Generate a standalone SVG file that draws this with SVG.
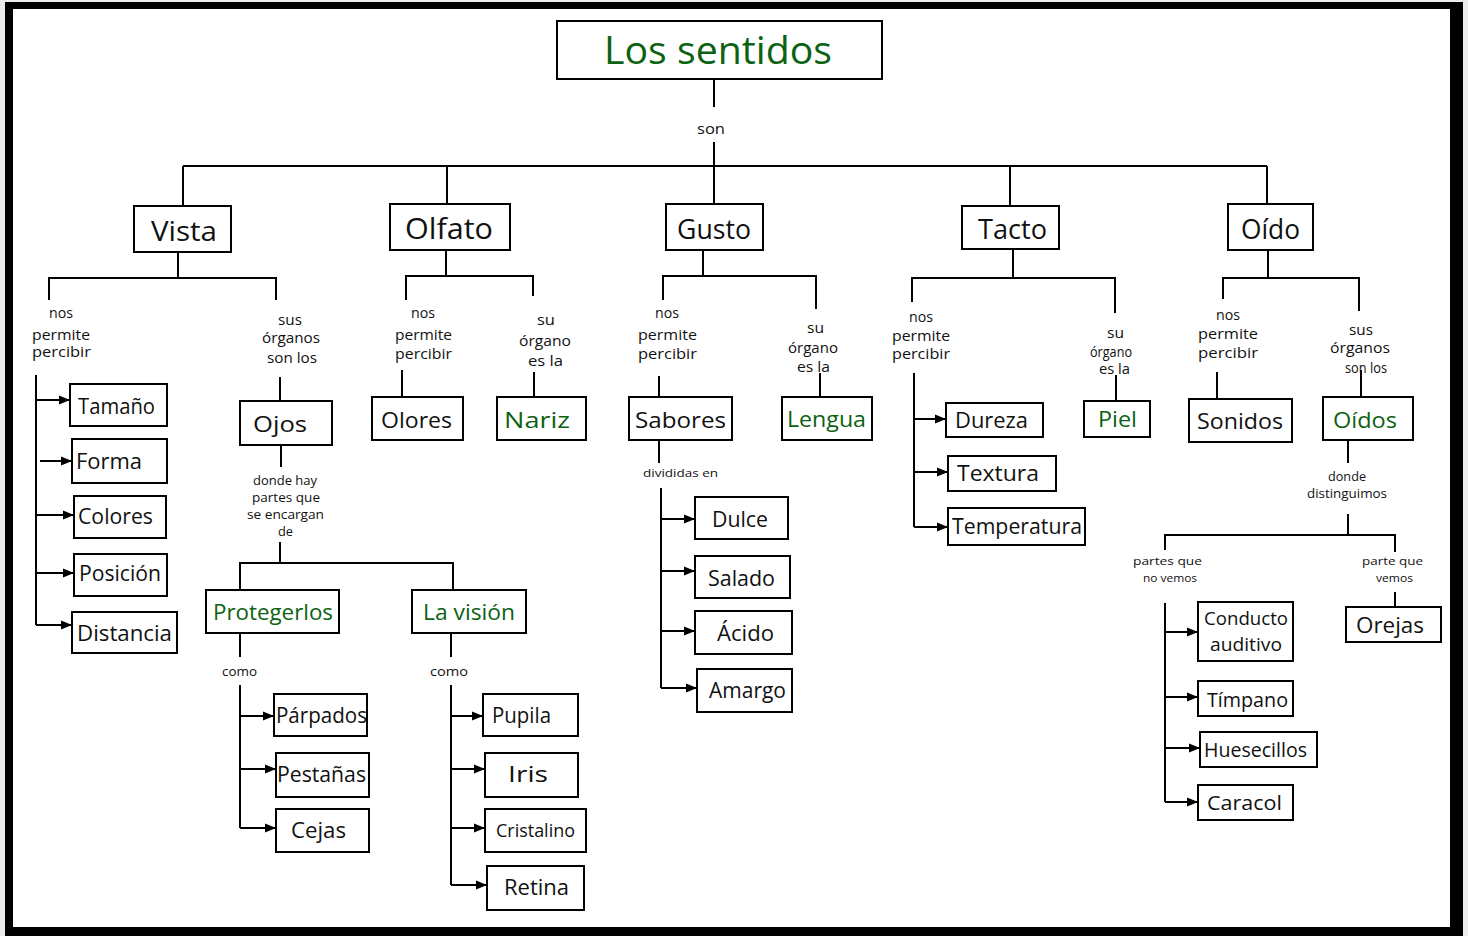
<svg xmlns="http://www.w3.org/2000/svg" width="1468" height="936" viewBox="0 0 1468 936">
<defs>
<style>
.box{fill:#fff;stroke:#000;stroke-width:2}
.t{font-family:"Open Sans","DejaVu Sans",sans-serif;fill:#111;font-size:22px}
.g{fill:#0c6212}
.s{font-size:14px}
.xs{font-size:12.5px}
.xxs{font-size:11px}
.ln{stroke:#000;stroke-width:2;fill:none}
.ar{stroke:#000;stroke-width:2;fill:none;marker-end:url(#ah)}
</style>
<marker id="ah" markerUnits="userSpaceOnUse" markerWidth="11" markerHeight="10" viewBox="0 0 11 10" refX="11" refY="5" orient="auto"><path d="M0,0.5 L11,5 L0,9.5 z" fill="#000"/></marker>
</defs>
<rect x="0" y="0" width="1468" height="936" fill="#ececec"/>
<rect x="5" y="2" width="1458" height="934" fill="#000"/>
<rect x="13" y="9" width="1437" height="918" fill="#fff"/>

<g id="connectors">
<path class="ln" d="M714,79 V107 M714,142 V204 M183,166 H1267 M183,166 V206 M447,166 V204 M1010,166 V206 M1267,166 V204"/>
<path class="ln" d="M178,252 V278 M49,300 V278 H276 V300 M280,377 V401 M281,445 V467 M280,542 V563 M240,590 V563 H453 V590 M240,633 V657 M451,633 V657"/>
<path class="ln" d="M446,250 V276 M406,300 V276 H533 V296 M402,370 V397 M534,372 V397"/>
<path class="ln" d="M703,250 V276 M663,300 V276 H816 V309 M659,376 V397 M820,373 V397 M659,440 V463"/>
<path class="ln" d="M1013,249 V278 M912,302 V278 H1115 V313 M1116,375 V401"/>
<path class="ln" d="M1268,250 V278 M1223,299 V278 H1359 V311 M1217,372 V399 M1361,370 V397 M1348,440 V463 M1348,514 V535 M1165,550 V535 H1395 V552 M1395,592 V607"/>
<path class="ln" d="M36,375 V625 M240,685 V828 M451,685 V885 M661,488 V688 M914,373 V527 M1165,603 V802"/>
<path class="ar" d="M36,400 H70"/><path class="ar" d="M40,461 H72"/><path class="ar" d="M36,515 H74"/><path class="ar" d="M36,573 H74"/><path class="ar" d="M36,625 H72"/>
<path class="ar" d="M240,716 H274"/><path class="ar" d="M240,769 H276"/><path class="ar" d="M240,828 H276"/>
<path class="ar" d="M451,716 H483"/><path class="ar" d="M451,769 H485"/><path class="ar" d="M451,828 H485"/><path class="ar" d="M451,885 H487"/>
<path class="ar" d="M661,519 H695"/><path class="ar" d="M661,571 H695"/><path class="ar" d="M661,631 H695"/><path class="ar" d="M661,688 H697"/>
<path class="ar" d="M914,419 H946"/><path class="ar" d="M914,472 H948"/><path class="ar" d="M914,527 H948"/>
<path class="ar" d="M1165,632 H1198"/><path class="ar" d="M1165,697 H1198"/><path class="ar" d="M1165,748 H1200"/><path class="ar" d="M1165,802 H1198"/>
</g>

<g id="labels">
<text class="t s" x="697" y="134" textLength="28" lengthAdjust="spacingAndGlyphs">son</text>
<text class="t s" x="49" y="318" textLength="24" lengthAdjust="spacingAndGlyphs">nos</text>
<text class="t s" x="32" y="340" textLength="58" lengthAdjust="spacingAndGlyphs">permite</text>
<text class="t s" x="32" y="357" textLength="59" lengthAdjust="spacingAndGlyphs">percibir</text>
<text class="t s" x="278" y="325" textLength="24" lengthAdjust="spacingAndGlyphs">sus</text>
<text class="t s" x="262" y="343" textLength="58" lengthAdjust="spacingAndGlyphs">órganos</text>
<text class="t s" x="267" y="363" textLength="50" lengthAdjust="spacingAndGlyphs">son los</text>
<text class="t xs" x="253" y="485" textLength="64" lengthAdjust="spacingAndGlyphs">donde hay</text>
<text class="t xs" x="252" y="502" textLength="68" lengthAdjust="spacingAndGlyphs">partes que</text>
<text class="t xs" x="247" y="519" textLength="77" lengthAdjust="spacingAndGlyphs">se encargan</text>
<text class="t xs" x="278" y="536" textLength="15" lengthAdjust="spacingAndGlyphs">de</text>
<text class="t xs" x="222" y="676" textLength="35" lengthAdjust="spacingAndGlyphs">como</text>
<text class="t xs" x="430" y="676" textLength="38" lengthAdjust="spacingAndGlyphs">como</text>
<text class="t s" x="411" y="318" textLength="24" lengthAdjust="spacingAndGlyphs">nos</text>
<text class="t s" x="395" y="340" textLength="57" lengthAdjust="spacingAndGlyphs">permite</text>
<text class="t s" x="395" y="359" textLength="57" lengthAdjust="spacingAndGlyphs">percibir</text>
<text class="t s" x="537" y="325" textLength="18" lengthAdjust="spacingAndGlyphs">su</text>
<text class="t s" x="519" y="346" textLength="52" lengthAdjust="spacingAndGlyphs">órgano</text>
<text class="t s" x="528" y="366" textLength="35" lengthAdjust="spacingAndGlyphs">es la</text>
<text class="t s" x="655" y="318" textLength="24" lengthAdjust="spacingAndGlyphs">nos</text>
<text class="t s" x="638" y="340" textLength="59" lengthAdjust="spacingAndGlyphs">permite</text>
<text class="t s" x="638" y="359" textLength="59" lengthAdjust="spacingAndGlyphs">percibir</text>
<text class="t s" x="807" y="333" textLength="17" lengthAdjust="spacingAndGlyphs">su</text>
<text class="t s" x="788" y="353" textLength="50" lengthAdjust="spacingAndGlyphs">órgano</text>
<text class="t s" x="797" y="372" textLength="33" lengthAdjust="spacingAndGlyphs">es la</text>
<text class="t xxs" x="643" y="477" textLength="75" lengthAdjust="spacingAndGlyphs">divididas en</text>
<text class="t s" x="909" y="322" textLength="24" lengthAdjust="spacingAndGlyphs">nos</text>
<text class="t s" x="892" y="341" textLength="58" lengthAdjust="spacingAndGlyphs">permite</text>
<text class="t s" x="892" y="359" textLength="58" lengthAdjust="spacingAndGlyphs">percibir</text>
<text class="t s" x="1107" y="338" textLength="17" lengthAdjust="spacingAndGlyphs">su</text>
<text class="t s" x="1090" y="357" textLength="42" lengthAdjust="spacingAndGlyphs">órgano</text>
<text class="t s" x="1099" y="374" textLength="31" lengthAdjust="spacingAndGlyphs">es la</text>
<text class="t s" x="1216" y="320" textLength="24" lengthAdjust="spacingAndGlyphs">nos</text>
<text class="t s" x="1198" y="339" textLength="60" lengthAdjust="spacingAndGlyphs">permite</text>
<text class="t s" x="1198" y="358" textLength="60" lengthAdjust="spacingAndGlyphs">percibir</text>
<text class="t s" x="1349" y="335" textLength="24" lengthAdjust="spacingAndGlyphs">sus</text>
<text class="t s" x="1330" y="353" textLength="60" lengthAdjust="spacingAndGlyphs">órganos</text>
<text class="t s" x="1345" y="373" textLength="42" lengthAdjust="spacingAndGlyphs">son los</text>
<text class="t xs" x="1328" y="481" textLength="38" lengthAdjust="spacingAndGlyphs">donde</text>
<text class="t xs" x="1307" y="498" textLength="80" lengthAdjust="spacingAndGlyphs">distinguimos</text>
<text class="t xxs" x="1133" y="565" textLength="69" lengthAdjust="spacingAndGlyphs">partes que</text>
<text class="t xxs" x="1143" y="582" textLength="54" lengthAdjust="spacingAndGlyphs">no vemos</text>
<text class="t xxs" x="1362" y="565" textLength="61" lengthAdjust="spacingAndGlyphs">parte que</text>
<text class="t xxs" x="1376" y="582" textLength="37" lengthAdjust="spacingAndGlyphs">vemos</text>
</g>

<g id="n-title"><rect class="box" x="557" y="21" width="325" height="58"/><text class="t g" x="604" y="64" style="font-size:39px" textLength="228" lengthAdjust="spacingAndGlyphs">Los sentidos</text></g>
<g id="n-vista"><rect class="box" x="134" y="206" width="97" height="46"/><text class="t" x="151" y="241" style="font-size:28px" textLength="66" lengthAdjust="spacingAndGlyphs">Vista</text></g>
<g id="n-olfato"><rect class="box" x="390" y="204" width="120" height="46"/><text class="t" x="405" y="239" style="font-size:29px" textLength="88" lengthAdjust="spacingAndGlyphs">Olfato</text></g>
<g id="n-gusto"><rect class="box" x="666" y="204" width="97" height="46"/><text class="t" x="677" y="239" style="font-size:28px" textLength="74" lengthAdjust="spacingAndGlyphs">Gusto</text></g>
<g id="n-tacto"><rect class="box" x="962" y="206" width="97" height="43"/><text class="t" x="978" y="239" style="font-size:28px" textLength="69" lengthAdjust="spacingAndGlyphs">Tacto</text></g>
<g id="n-oido"><rect class="box" x="1228" y="204" width="85" height="46"/><text class="t" x="1241" y="239" style="font-size:28px" textLength="59" lengthAdjust="spacingAndGlyphs">Oído</text></g>

<g id="n-tamano"><rect class="box" x="70" y="384" width="97" height="42"/><text class="t" x="78" y="414" textLength="77" lengthAdjust="spacingAndGlyphs">Tamaño</text></g>
<g id="n-forma"><rect class="box" x="72" y="439" width="95" height="44"/><text class="t" x="76" y="469" textLength="66" lengthAdjust="spacingAndGlyphs">Forma</text></g>
<g id="n-colores"><rect class="box" x="74" y="496" width="92" height="42"/><text class="t" x="78" y="524" textLength="75" lengthAdjust="spacingAndGlyphs">Colores</text></g>
<g id="n-posicion"><rect class="box" x="74" y="554" width="93" height="42"/><text class="t" x="79" y="581" textLength="82" lengthAdjust="spacingAndGlyphs">Posición</text></g>
<g id="n-distancia"><rect class="box" x="72" y="612" width="105" height="41"/><text class="t" x="77" y="641" textLength="95" lengthAdjust="spacingAndGlyphs">Distancia</text></g>
<g id="n-ojos"><rect class="box" x="240" y="401" width="92" height="44"/><text class="t" x="253" y="432" textLength="54" lengthAdjust="spacingAndGlyphs">Ojos</text></g>
<g id="n-protegerlos"><rect class="box" x="206" y="590" width="133" height="43"/><text class="t g" x="213" y="620" textLength="120" lengthAdjust="spacingAndGlyphs">Protegerlos</text></g>
<g id="n-vision"><rect class="box" x="412" y="590" width="114" height="43"/><text class="t g" x="423" y="620" textLength="92" lengthAdjust="spacingAndGlyphs">La visión</text></g>
<g id="n-parpados"><rect class="box" x="274" y="694" width="93" height="42"/><text class="t" x="276" y="723" textLength="91" lengthAdjust="spacingAndGlyphs">Párpados</text></g>
<g id="n-pestanas"><rect class="box" x="276" y="753" width="93" height="44"/><text class="t" x="277" y="782" textLength="89" lengthAdjust="spacingAndGlyphs">Pestañas</text></g>
<g id="n-cejas"><rect class="box" x="276" y="809" width="93" height="43"/><text class="t" x="291" y="838" textLength="55" lengthAdjust="spacingAndGlyphs">Cejas</text></g>
<g id="n-pupila"><rect class="box" x="483" y="694" width="95" height="42"/><text class="t" x="492" y="723" textLength="59" lengthAdjust="spacingAndGlyphs">Pupila</text></g>
<g id="n-iris"><rect class="box" x="485" y="753" width="93" height="44"/><text class="t" x="508" y="782" textLength="40" lengthAdjust="spacingAndGlyphs">Iris</text></g>
<g id="n-cristalino"><rect class="box" x="485" y="809" width="101" height="43"/><text class="t" x="496" y="837" style="font-size:18px" textLength="79" lengthAdjust="spacingAndGlyphs">Cristalino</text></g>
<g id="n-retina"><rect class="box" x="487" y="866" width="97" height="44"/><text class="t" x="504" y="895" textLength="65" lengthAdjust="spacingAndGlyphs">Retina</text></g>

<g id="n-olores"><rect class="box" x="372" y="397" width="91" height="43"/><text class="t" x="381" y="428" textLength="71" lengthAdjust="spacingAndGlyphs">Olores</text></g>
<g id="n-nariz"><rect class="box" x="497" y="397" width="89" height="43"/><text class="t g" x="504" y="428" textLength="66" lengthAdjust="spacingAndGlyphs">Nariz</text></g>
<g id="n-sabores"><rect class="box" x="629" y="397" width="103" height="43"/><text class="t" x="635" y="428" textLength="91" lengthAdjust="spacingAndGlyphs">Sabores</text></g>
<g id="n-lengua"><rect class="box" x="782" y="397" width="90" height="43"/><text class="t g" x="787" y="427" textLength="79" lengthAdjust="spacingAndGlyphs">Lengua</text></g>
<g id="n-dulce"><rect class="box" x="695" y="497" width="93" height="42"/><text class="t" x="712" y="527" textLength="56" lengthAdjust="spacingAndGlyphs">Dulce</text></g>
<g id="n-salado"><rect class="box" x="695" y="556" width="95" height="42"/><text class="t" x="708" y="586" textLength="67" lengthAdjust="spacingAndGlyphs">Salado</text></g>
<g id="n-acido"><rect class="box" x="695" y="611" width="97" height="43"/><text class="t" x="717" y="641" textLength="57" lengthAdjust="spacingAndGlyphs">Ácido</text></g>
<g id="n-amargo"><rect class="box" x="697" y="669" width="95" height="43"/><text class="t" x="709" y="698" textLength="77" lengthAdjust="spacingAndGlyphs">Amargo</text></g>

<g id="n-dureza"><rect class="box" x="946" y="403" width="97" height="34"/><text class="t" x="955" y="428" style="font-size:21px" textLength="73" lengthAdjust="spacingAndGlyphs">Dureza</text></g>
<g id="n-textura"><rect class="box" x="948" y="456" width="108" height="35"/><text class="t" x="957" y="481" style="font-size:21px" textLength="82" lengthAdjust="spacingAndGlyphs">Textura</text></g>
<g id="n-temperatura"><rect class="box" x="948" y="508" width="137" height="37"/><text class="t" x="952" y="534" style="font-size:21px" textLength="130" lengthAdjust="spacingAndGlyphs">Temperatura</text></g>
<g id="n-piel"><rect class="box" x="1084" y="401" width="66" height="36"/><text class="t g" x="1098" y="427" style="font-size:21px" textLength="39" lengthAdjust="spacingAndGlyphs">Piel</text></g>

<g id="n-sonidos"><rect class="box" x="1189" y="399" width="103" height="43"/><text class="t" x="1197" y="429" textLength="86" lengthAdjust="spacingAndGlyphs">Sonidos</text></g>
<g id="n-oidos"><rect class="box" x="1323" y="397" width="90" height="43"/><text class="t g" x="1333" y="428" textLength="64" lengthAdjust="spacingAndGlyphs">Oídos</text></g>
<g id="n-conducto"><rect class="box" x="1198" y="602" width="95" height="59"/><text class="t" x="1204" y="625" style="font-size:18px" textLength="84" lengthAdjust="spacingAndGlyphs">Conducto</text><text class="t" x="1210" y="651" style="font-size:18px" textLength="72" lengthAdjust="spacingAndGlyphs">auditivo</text></g>
<g id="n-timpano"><rect class="box" x="1198" y="681" width="95" height="35"/><text class="t" x="1207" y="707" style="font-size:20px" textLength="81" lengthAdjust="spacingAndGlyphs">Tímpano</text></g>
<g id="n-huesecillos"><rect class="box" x="1200" y="732" width="117" height="35"/><text class="t" x="1204" y="757" style="font-size:20px" textLength="103" lengthAdjust="spacingAndGlyphs">Huesecillos</text></g>
<g id="n-caracol"><rect class="box" x="1198" y="785" width="95" height="35"/><text class="t" x="1207" y="810" style="font-size:20px" textLength="75" lengthAdjust="spacingAndGlyphs">Caracol</text></g>
<g id="n-orejas"><rect class="box" x="1346" y="607" width="95" height="35"/><text class="t" x="1356" y="633" style="font-size:21px" textLength="68" lengthAdjust="spacingAndGlyphs">Orejas</text></g>
</svg>
